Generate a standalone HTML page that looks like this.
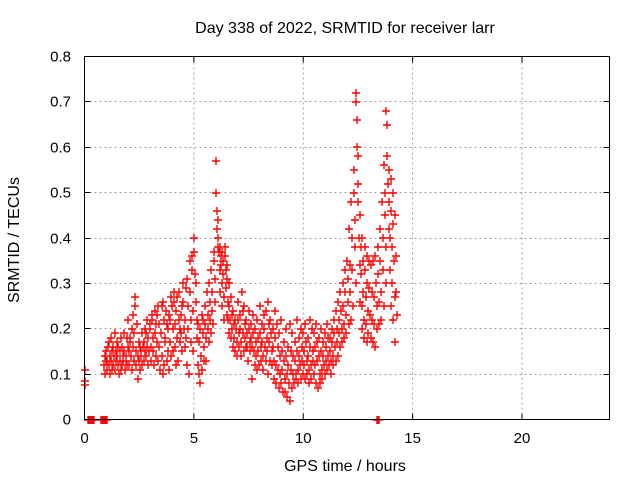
<!DOCTYPE html>
<html><head><meta charset="utf-8"><style>
body{margin:0;background:#fff}
svg{display:block;font-family:"Liberation Sans",sans-serif}
</style></head><body>
<svg id="chart" width="640" height="480" viewBox="0 0 640 480">
<rect width="640" height="480" fill="#fff"/>
<text x="345" y="33" text-anchor="middle" font-size="16">Day 338 of 2022, SRMTID for receiver larr</text>
<g id="grid"></g>
<g id="ticks"></g>
<path id="pts" fill="none" stroke="#ff0000" stroke-width="1.4"/>
<rect x="84.5" y="56.5" width="525" height="363" fill="none" stroke="#000" stroke-width="1"/>
<text x="345" y="471" text-anchor="middle" font-size="16">GPS time / hours</text>
<text transform="translate(19,240) rotate(-90)" text-anchor="middle" font-size="16">SRMTID / TECUs</text>
</svg>
<script>
const xTicks=[0,5,10,15,20];
const yTicks=[0,0.1,0.2,0.3,0.4,0.5,0.6,0.7,0.8];
const yTickLabels=["0","0.1","0.2","0.3","0.4","0.5","0.6","0.7","0.8"];
const times=[0.9,1.0,1.1,1.2,1.3,1.4,1.5,1.6,1.7,1.8,1.9,2.0,2.1,2.2,2.3,2.4,2.5,2.6,2.7,2.8,2.9,3.0,3.1,3.2,3.3,3.4,3.5,3.6,3.7,3.8,3.9,4.0,4.1,4.2,4.3,4.4,4.5,4.6,4.7,4.8,4.9,5.0,5.1,5.2,5.3,5.4,5.5,5.6,5.7,5.8,5.9,6.0,6.1,6.2,6.3,6.4,6.5,6.6,6.7,6.8,6.9,7.0,7.1,7.2,7.3,7.4,7.5,7.6,7.7,7.8,7.9,8.0,8.1,8.2,8.3,8.4,8.5,8.6,8.7,8.8,8.9,9.0,9.1,9.2,9.3,9.4,9.5,9.6,9.7,9.8,9.9,10.0,10.1,10.2,10.3,10.4,10.5,10.6,10.7,10.8,10.9,11.0,11.1,11.2,11.3,11.4,11.5,11.6,11.7,11.8,11.9,12.0,12.1,12.2,12.3,12.4,12.5,12.6,12.7,12.8,12.9,13.0,13.1,13.2,13.3,13.4,13.5,13.6,13.7,13.8,13.9,14.0,14.1,14.2];
const values=[[.12,.14,.10,.13],[.15,.11,.13,.16],[.12,.17,.14,.10],[.13,.18,.15,.11],[.16,.12,.14,.19],[.11,.15,.13,.17],[.14,.12,.16,.10],[.13,.15,.11,.18],[.16,.12,.14,.13],[.15,.19,.11,.13],[.14,.18,.12,.16],[.22,.15,.12,.17],[.18,.14,.11,.20],[.23,.16,.13,.19],[.27,.25,.15,.12],[.21,.14,.09,.17],[.13,.16,.11,.15],[.14,.19,.12,.16],[.17,.13,.15,.20],[.19,.14,.22,.16],[.18,.12,.15,.21],[.20,.16,.13,.23],[.22,.18,.15,.12],[.24,.19,.14,.21],[.23,.17,.25,.13],[.21,.16,.11,.19],[.19,.25,.14,.10],[.26,.22,.12,.17],[.18,.24,.13,.21],[.20,.15,.11,.23],[.22,.17,.27,.14],[.25,.20,.15,.28],[.26,.21,.16,.12],[.24,.18,.27,.13],[.28,.22,.17,.20],[.23,.19,.15,.25],[.26,.30,.20,.16],[.22,.29,.18,.12],[.31,.25,.20,.10],[.35,.28,.22,.17],[.36,.33,.24,.15],[.40,.37,.32,.26],[.30,.22,.18,.12],[.21,.17,.10,.08],[.20,.14,.11,.23],[.22,.19,.16,.13],[.25,.21,.18,.13],[.28,.23,.20,.17],[.30,.26,.22,.19],[.33,.28,.24,.21],[.37,.35,.31,.26],[.57,.50,.46,.42,.38],[.44,.40,.37,.33,.28],[.38,.36,.34,.30,.25],[.37,.35,.32,.27,.22],[.38,.36,.33,.29,.23],[.34,.31,.26,.22,.19],[.30,.25,.22,.18],[.27,.23,.20,.16],[.24,.21,.18,.15],[.22,.20,.17,.14],[.26,.22,.19,.16],[.23,.20,.17,.14],[.28,.24,.19,.15],[.25,.21,.18,.16],[.22,.19,.16,.13],[.24,.20,.17,.15],[.21,.18,.16,.09],[.23,.19,.15,.12],[.20,.17,.14,.11],[.22,.18,.15,.12],[.25,.19,.16,.13],[.21,.17,.14,.11],[.23,.20,.16,.13],[.24,.18,.15,.10],[.26,.21,.17,.13],[.22,.19,.15,.12],[.20,.16,.13,.09],[.24,.18,.12,.08],[.21,.16,.11,.07],[.19,.14,.10,.08],[.22,.15,.11,.06],[.17,.13,.09,.06],[.20,.14,.10,.05],[.16,.12,.08,.04],[.21,.15,.11,.07],[.19,.14,.10,.08],[.17,.13,.09,.10],[.22,.15,.11,.08],[.18,.14,.12,.09],[.20,.16,.13,.10],[.19,.15,.12,.09],[.21,.17,.13,.10],[.18,.14,.11,.08],[.22,.16,.12,.09],[.20,.15,.13,.10],[.19,.16,.12,.08],[.21,.17,.13,.07],[.18,.14,.10,.08],[.20,.15,.11,.09],[.17,.14,.12,.10],[.19,.16,.13,.11],[.21,.18,.14,.12],[.18,.15,.13,.10],[.20,.17,.14,.12],[.22,.19,.16,.13],[.24,.20,.17,.14],[.26,.22,.19,.16],[.28,.24,.20,.17],[.30,.25,.21,.18],[.33,.28,.23,.19],[.35,.31,.26,.21],[.42,.34,.28,.22],[.48,.40,.33,.25],[.55,.50,.44,.38,.30],[.72,.70,.66,.60,.52],[.58,.48,.40,.34,.26],[.45,.38,.32,.25,.20],[.40,.35,.28,.22,.18],[.38,.33,.27,.21,.17],[.36,.30,.24,.19],[.35,.29,.23,.18],[.34,.28,.22,.17],[.35,.27,.21,.16],[.36,.30,.25,.20],[.38,.32,.26,.21],[.42,.35,.28,.22],[.48,.40,.33,.25],[.56,.50,.45,.38,.30],[.68,.65,.58,.52,.42],[.55,.48,.40,.33,.25],[.53,.46,.38,.30,.22],[.50,.43,.35,.27,.17],[.45,.36,.28,.23]];
const extraTimes=[0.0,0.0,0.02,0.15,0.2,0.25,0.3,0.35,0.4,0.45,0.75,0.8,0.85,0.9,0.95,1.0,1.05,13.35,13.4,13.45];
const extraValues=[0.075,0.085,0.11,0,0,0,0,0,0,0,0,0,0,0,0,0,0,0,0,0];

const X0=84.5,X1=609.5,Y0=419.5,Y1=56.5,XMAX=24,YMAX=0.8;
const sx=t=>X0+(X1-X0)*t/XMAX;
const sy=v=>Y0-(Y0-Y1)*v/YMAX;
const NS="http://www.w3.org/2000/svg";
const grid=document.getElementById('grid'),ticks=document.getElementById('ticks');
let gd="",td="";
yTicks.forEach((v,i)=>{
  const y=Math.round(sy(v)-0.5)+0.5;
  if(v>0&&v<YMAX) gd+=`M${X0} ${y}H${X1}`;
  td+=`M${X0} ${y}h6M${X1} ${y}h-6`;
  const t=document.createElementNS(NS,'text');
  
  
  t.setAttribute('x',71);t.setAttribute('y',y+5);t.setAttribute('text-anchor','end');t.setAttribute('font-size','15');
  t.textContent=yTickLabels[i];ticks.appendChild(t);
});
xTicks.forEach(v=>{
  const x=sx(v);
  if(v>0) gd+=`M${x} ${Y0}V${Y1}`;
  td+=`M${x} ${Y0}v-6M${x} ${Y1}v6`;
  const t=document.createElementNS(NS,'text');
  
  
  t.setAttribute('x',x);t.setAttribute('y',443);t.setAttribute('text-anchor','middle');t.setAttribute('font-size','15');
  t.textContent=String(v);ticks.appendChild(t);
});
const gp=document.createElementNS(NS,'path');


gp.setAttribute('d',gd);gp.setAttribute('stroke','#a0a0a0');gp.setAttribute('stroke-dasharray','2,3');gp.setAttribute('fill','none');
grid.appendChild(gp);
const tp=document.createElementNS(NS,'path');


tp.setAttribute('d',td);tp.setAttribute('stroke','#000');tp.setAttribute('fill','none');
ticks.appendChild(tp);
let pd="";
const cross=(t,v)=>{const x=Math.round(sx(t)),y=Math.round(sy(v));pd+=`M${x-4} ${y}h8M${x} ${y-4}v8`;};
times.forEach((t,i)=>values[i].forEach((v,j)=>cross(t+j*0.025,v)));
extraTimes.forEach((t,i)=>cross(t,extraValues[i]));
document.getElementById('pts').setAttribute('d',pd);
</script>
</body></html>
